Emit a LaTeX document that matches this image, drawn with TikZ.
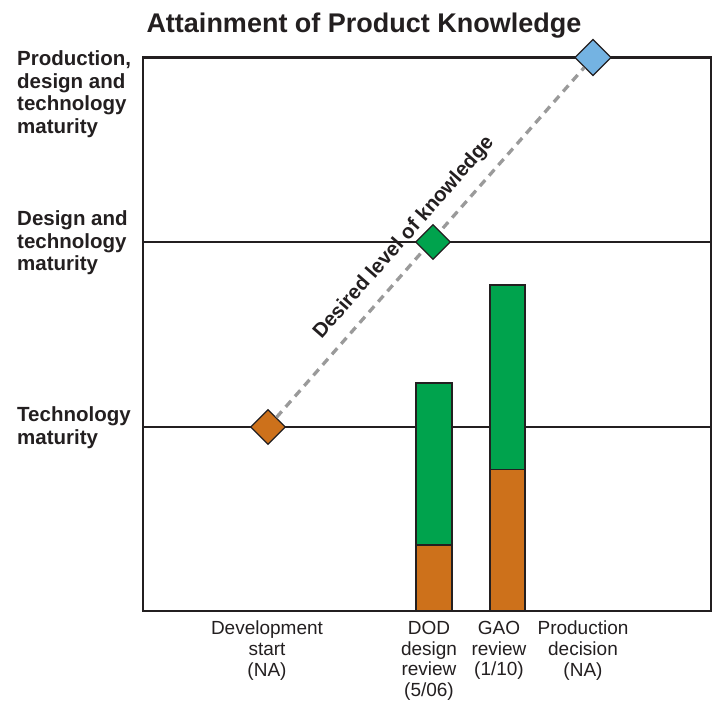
\documentclass[tikz,border=0pt]{standalone}
\usepackage{fontspec}
\setmainfont{Liberation Sans}
\usetikzlibrary{shapes.geometric}
\definecolor{ink}{HTML}{231F20}
\definecolor{orangefill}{HTML}{CD711B}
\definecolor{greenfill}{HTML}{00A34D}
\definecolor{bluefill}{HTML}{74B3E2}
\definecolor{dashgray}{HTML}{9A9A9A}
\tikzset{
  diam/.style={diamond, draw=ink, line width=1.2pt, minimum width=35pt, minimum height=35pt, inner sep=0pt, aspect=1},
  barpart/.style={draw=ink, line width=1.2pt},
  levelline/.style={draw=ink, line width=2pt},
  ylab/.style={anchor=north west, inner sep=0pt, align=left, text=ink, font=\fontsize{20.5}{22.7}\selectfont\bfseries},
  xlab/.style={anchor=north, inner sep=0pt, align=center, text=ink, font=\fontsize{19}{20.7}\selectfont},
  desired/.style={dashgray, line width=3.3pt, dash pattern=on 8pt off 6pt}
}
\begin{document}
\begin{tikzpicture}[x=1pt,y=1pt]
\useasboundingbox (0,0) rectangle (714,702);
% title
\node[anchor=base, inner sep=0pt, text=ink, font=\fontsize{27}{30}\selectfont\bfseries] (title) at (364,669) {Attainment of Product Knowledge};
% level lines
\draw[levelline] (143,460) -- (711,460);
\draw[levelline] (143,275) -- (711,275);
% bars
\fill[orangefill] (416,91) rectangle (452,157);
\fill[greenfill] (416,157) rectangle (452,319);
\draw[barpart] (416,91) rectangle (452,319);
\draw[barpart] (416,157) -- (452,157);
\fill[orangefill] (490,91) rectangle (525,232.5);
\fill[greenfill] (490,232.5) rectangle (525,417);
\draw[barpart] (490,91) rectangle (525,417);
\draw[barpart] (490,232.5) -- (525,232.5);
% frame
\draw[ink, line width=2.3pt] (143,91) rectangle (711,644.5);
% diamonds and desired line
\node[diam, fill=orangefill] (dev) at (268,275) {};
\node[diam, fill=bluefill, minimum width=36.5pt, minimum height=36.5pt] (prod) at (593,644.5) {};
\draw[desired] (dev) -- (prod);
\node[diam, fill=greenfill] (des) at (433,460) {};
\node[rotate=48.7, inner sep=0pt, text=ink, font=\fontsize{20.4}{22}\selectfont\bfseries] (desiredlab) at (404,464) {Desired level of knowledge};
% y labels
\node[ylab] (l3) at (17,651.5) {Production,\\design and\\technology\\maturity};
\node[ylab] (l2) at (17,491.5) {Design and\\technology\\maturity};
\node[ylab] (l1) at (17,295.5) {Technology\\maturity};
% x labels
\node[xlab] (x1) at (267,81) {Development\\start\\(NA)};
\node[xlab] (x2) at (429,81) {DOD\\design\\review\\(5/06)};
\node[xlab] (x3) at (499,81) {GAO\\review\\(1/10)};
\node[xlab] (x4) at (583,81) {Production\\decision\\(NA)};
\end{tikzpicture}
\end{document}
